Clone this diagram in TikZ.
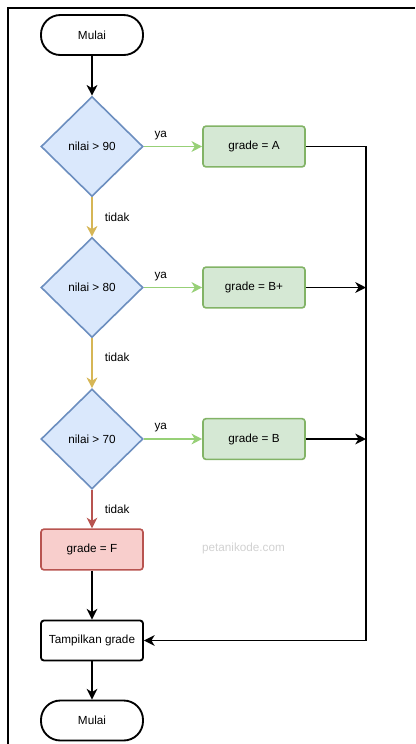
\documentclass[tikz,border=0pt]{standalone}
\usepackage{fontspec}
\setmainfont{Liberation Sans}
\usetikzlibrary{arrows.meta, positioning, shapes.geometric}
\definecolor{dfill}{HTML}{DAE8FC}
\definecolor{ddraw}{HTML}{6C8EBF}
\definecolor{gfill}{HTML}{D5E8D4}
\definecolor{gdraw}{HTML}{82B366}
\definecolor{yacolor}{HTML}{97D077}
\definecolor{tdkcolor}{HTML}{D6B656}
\definecolor{ffill}{HTML}{F8CECC}
\definecolor{fdraw}{HTML}{B85450}
\tikzset{
  term/.style     = {draw=black, line width=1.4pt, rounded corners=14.5pt, fill=white,
                     minimum width=76.5pt, minimum height=30pt, font=\fontsize{8.8}{10}\selectfont},
  decision/.style = {diamond, draw=ddraw, line width=1.2pt, fill=dfill, inner sep=0pt,
                     minimum width=76.5pt, minimum height=75pt, font=\fontsize{8.8}{10}\selectfont},
  proc/.style     = {draw=gdraw, line width=1.2pt, rounded corners=2.2pt, fill=gfill,
                     minimum width=76.5pt, minimum height=30.5pt, font=\fontsize{8.8}{10}\selectfont},
  arrow/.style    = {-{Stealth[length=8pt, width=8pt, inset=2.4pt]}, line width=1.4pt},
  lbl/.style      = {inner sep=0pt, font=\fontsize{8.8}{10}\selectfont},
}

\begin{document}
\begin{tikzpicture}[x=0.75pt, y=-0.75pt]
  \useasboundingbox (0,0) rectangle (415,744);
  % frame
  \draw[line width=1.5pt] (7.5,744) -- (7.5,8) -- (415,8);
  \node[term] (start) at (92,35) {Mulai};
  \coordinate (rail) at (366,0);
  % the three checks
  \foreach \j/\y/\v/\g in {1/146.5/90/A, 2/287.5/80/B+, 3/439/70/B} {
    \node[decision] (d\j) at (92,\y) {nilai > \v};
    \node[proc] (g\j) at (254,\y) {grade = \g};
    \draw[arrow, yacolor, line width=1.2pt] (d\j) -- (g\j)
      node[lbl, pos=0.29, above=4.5pt, black]{ya};
  }
  \node[proc, draw=fdraw, fill=ffill] (gF) at (92,549.5) {grade = F};
  \node[term, rounded corners=2.2pt] (show) at (92,640.5) {Tampilkan grade};
  \node[term] (stop) at (92,720.5) {Mulai};
  \node[lbl, text=black!18] (wm) at (243.5,548.5) {petanikode.com};
  % flow
  \draw[arrow] (start) -- (d1);
  \draw[arrow, tdkcolor, line width=1.2pt] (d1) -- (d2)
    node[lbl, midway, right=9pt, black]{tidak};
  \draw[arrow, tdkcolor, line width=1.2pt] (d2) -- (d3)
    node[lbl, pos=0.39, right=9pt, black]{tidak};
  \draw[arrow, fdraw, line width=1.2pt] (d3) -- (gF)
    node[lbl, midway, right=9pt, black]{tidak};
  \draw[arrow] (gF) -- (show);
  \draw[arrow] (show) -- (stop);
  % right rail back to output
  \draw[arrow] (g1.east) -| (rail |- show.east) -- (show.east);
  \draw[arrow] (g2.east) -- (rail |- g2.east);
  \draw[arrow] (g3.east) -- (rail |- g3.east);
\end{tikzpicture}
\end{document}
